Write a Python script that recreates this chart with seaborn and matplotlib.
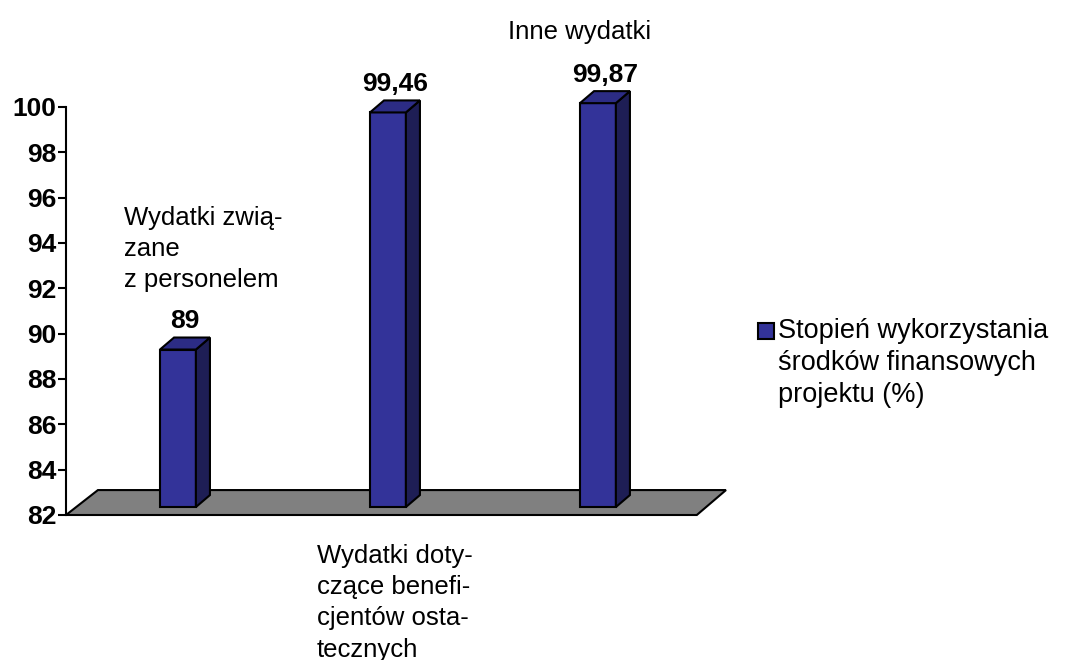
import numpy as np
import pandas as pd
import matplotlib
matplotlib.use("Agg")
import matplotlib.pyplot as plt
import seaborn as sns
from matplotlib.patches import Polygon, Rectangle

# Data
categories = ["Wydatki związane z personelem",
              "Wydatki dotyczące beneficjentów ostatecznych",
              "Inne wydatki"]
category_labels = ["Wydatki zwią-\nzane\nz personelem",
                   "Wydatki doty-\nczące benefi-\ncjentów osta-\ntecznych",
                   "Inne wydatki"]
values = [89, 99.46, 99.87]
value_labels = ["89", "99,46", "99,87"]
series_name = "Stopień wykorzystania\nśrodków finansowych\nprojektu (%)"
y_ticks = [82, 84, 86, 88, 90, 92, 94, 96, 98, 100]

df = pd.DataFrame({"kategoria": categories, "wartosc": values})

# Style
sns.set_theme(style="white")
plt.rcParams["font.family"] = ["Liberation Sans", "DejaVu Sans"]

front_col = "#333399"
side_col = "#1e1e55"
top_col = "#2c2c85"
floor_col = "#808080"

fig = plt.figure(figsize=(10.76, 6.6), dpi=100)
ax = fig.add_axes([66 / 1076, 145 / 660, 660 / 1076, 408 / 660])

bar_w = 0.171
sns.barplot(data=df, x="kategoria", y="wartosc", color=front_col,
            width=bar_w, saturation=1, ax=ax, zorder=3)

ax.set_ylim(82, 100)
ax.set_xlim(-0.533, 2.61)

# -----------------------------
# Floor (3D look)
# -----------------------------
floor = Polygon([(-0.533, 82), (2.471, 82), (2.61, 83.1), (-0.381, 83.1)],
                closed=True, facecolor=floor_col, edgecolor="black",
                lw=1.5, zorder=1, clip_on=False)
ax.add_patch(floor)

# -----------------------------
# Bars: front face from seaborn, side + top drawn on it
# -----------------------------
base = 82.35
lift = 0.3
dx = 0.067
dy = 0.53
for rect, v, lab in zip(ax.patches, values, value_labels):
    x0 = rect.get_x()
    w = rect.get_width()
    top = v + lift
    rect.set_y(base)
    rect.set_height(top - base)
    rect.set_edgecolor("black")
    rect.set_linewidth(1.5)
    rect.set_clip_on(False)
    side = Polygon([(x0 + w, base), (x0 + w + dx, base + dy),
                    (x0 + w + dx, top + dy), (x0 + w, top)],
                   closed=True, facecolor=side_col, edgecolor="black",
                   lw=1.5, zorder=3, clip_on=False)
    roof = Polygon([(x0, top), (x0 + w, top), (x0 + w + dx, top + dy),
                    (x0 + dx, top + dy)],
                   closed=True, facecolor=top_col, edgecolor="black",
                   lw=1.5, zorder=3, clip_on=False)
    ax.add_patch(side)
    ax.add_patch(roof)
    ax.text(x0 + w / 2 + dx / 2, top + dy + 0.2, lab, ha="center",
            va="bottom", fontsize=19, fontweight="bold", color="black")

# Category labels, staggered like the original
label_pos = [(-0.257, 95.65), (0.662, 80.72), (1.571, 103.85)]
for (lx, ly), txt in zip(label_pos, category_labels):
    ax.text(lx, ly, txt, ha="left", va="top", fontsize=18.5,
            color="black", linespacing=1.38, clip_on=False)

# Axes
ax.set_xticks([])
ax.set_xlabel("")
ax.set_ylabel("")
ax.set_yticks(y_ticks)
ax.set_yticklabels([str(t) for t in y_ticks], fontsize=19, fontweight="bold")
ax.tick_params(axis="y", direction="out", length=6, width=1.5, pad=1,
               left=True, colors="black")
for s in ["top", "right", "bottom"]:
    ax.spines[s].set_visible(False)
ax.spines["left"].set_color("black")
ax.spines["left"].set_linewidth(1.5)
ax.patch.set_alpha(0)

# Legend (square next to the first line, like the original)
fig.add_artist(Rectangle((758 / 1076, 1 - 339 / 660), 16 / 1076, 16 / 660,
                         transform=fig.transFigure, facecolor=front_col,
                         edgecolor="black", lw=1.5))
fig.text(778 / 1076, 1 - 318 / 660, series_name, ha="left", va="top",
         fontsize=19.5, color="black", linespacing=1.3)

fig.savefig("out.png", dpi=100)
plt.close(fig)
